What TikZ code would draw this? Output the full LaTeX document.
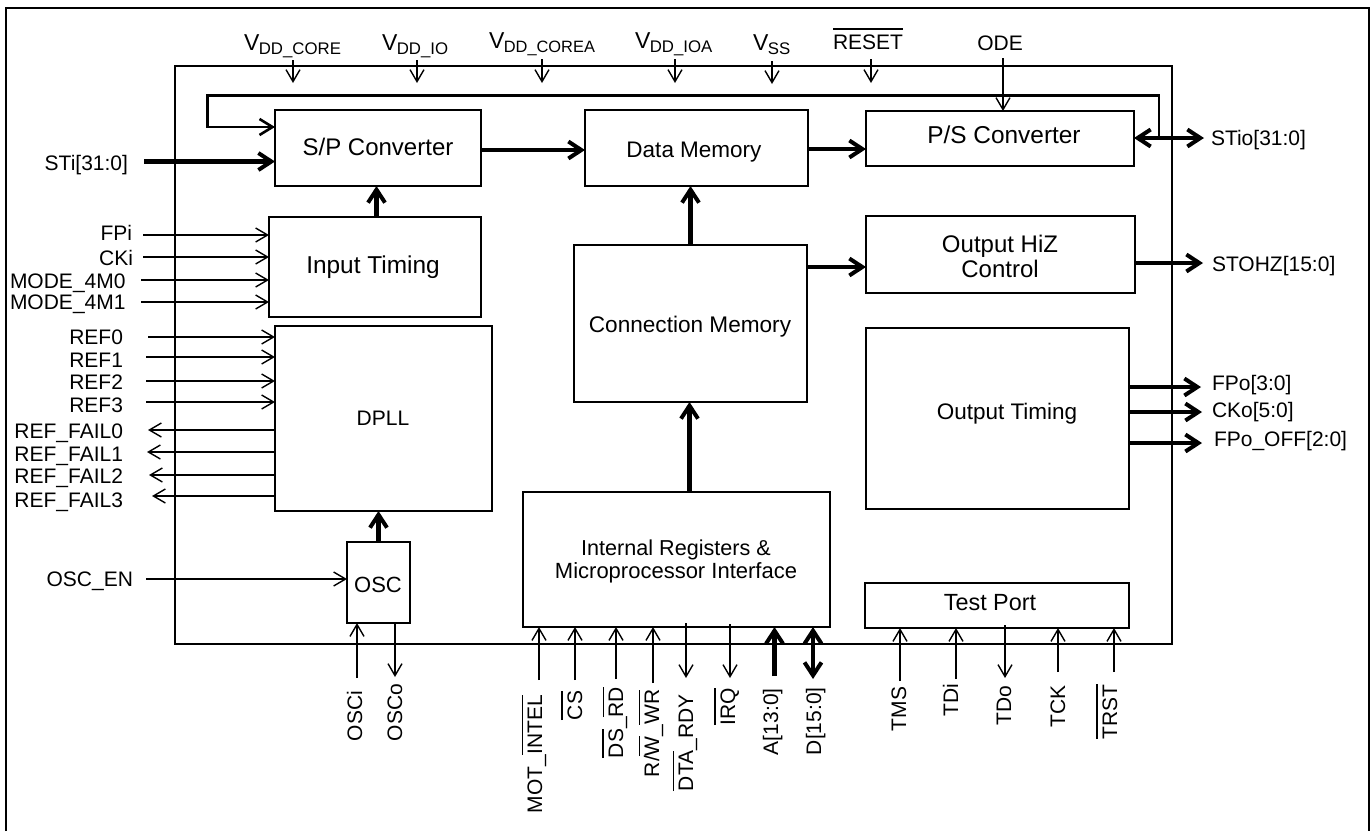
\documentclass[tikz,border=0pt]{standalone}
\usepackage{fontspec}
\setmainfont{Liberation Sans}
\usetikzlibrary{arrows.meta}
\newcommand\fsz[1]{\fontsize{#1}{#1}\selectfont}
\newcommand\ovl[1]{\vbox{\hrule height 1.6pt\kern 4.4pt\hbox{#1}}}
\newcommand\VV[2]{V\kern-0.5pt\raisebox{-4.5pt}{\fsz{#2}#1}}
% block: name x1 y1 x2 y2
\newcommand\blk[5]{\node[blockbox,minimum width={(#4-#2)*1pt},minimum height={(#5-#3)*1pt}] (#1) at ({(#2+#4)/2},{(#3+#5)/2}) {};}
% text: name x baseline size text
\newcommand\btx[5]{\node[txt,anchor=base] (#1) at (#2,#3) {\fsz{#4}#5};}
\newcommand\labR[4]{\node[txt,anchor=base east] (#1) at (#2,#3) {\fsz{21}#4};}
\newcommand\labL[4]{\node[txt,anchor=base west] (#1) at (#2,#3) {\fsz{21}#4};}
\newcommand\labV[4]{\node[txt,anchor=base west,rotate=90] (#1) at (#2,#3) {\fsz{21}#4};}
\tikzset{
  blockbox/.style={draw=black,line width=2pt,rectangle,inner sep=0pt,outer sep=0pt},
  txt/.style={inner sep=0pt,outer sep=0pt,text=black},
  pin/.style={draw=black,line width=1.7pt,-{Straight Barb[length=12pt,width=14pt,line width=1.4pt]}},
  bus/.style={draw=black,line width=4.8pt,-{Straight Barb[length=13pt,width=17pt,line width=4pt]}},
  busdouble/.style={draw=black,line width=3.8pt,{Straight Barb[length=13pt,width=17pt,line width=4pt]}-{Straight Barb[length=13pt,width=17pt,line width=4pt]}},
  loopbus/.style={draw=black,line width=2.8pt,line join=miter,-{Straight Barb[length=13pt,width=16pt,line width=2.6pt]}},
}
\begin{document}
\begin{tikzpicture}[x=1pt,y=-1pt]
\useasboundingbox (0,0) rectangle (1370,831);
\fill[white] (0,0) rectangle (1370,831);
% outer frame (open at the bottom)
\draw[line width=2pt,line join=miter] (6,831) -- (6,8) -- (1369,8) -- (1369,831);
% blocks
\blk{chip}{175}{66}{1172}{644}
\blk{sp}{275}{110}{481}{186}
\blk{inp}{269}{217}{481}{317}
\blk{dpll}{275}{326}{492}{511}
\blk{osc}{347}{542}{410}{623}
\blk{dm}{585}{110}{808}{186}
\blk{cm}{574}{245}{807}{402}
\blk{ir}{523}{492}{830}{627}
\blk{ps}{866}{111}{1134}{166}
\blk{hiz}{866}{216}{1135}{293}
\blk{ot}{866}{328}{1129}{509}
\blk{tp}{865}{583}{1129}{628}
% block texts
\btx{tsp}{378}{155}{24}{S/P Converter}
\btx{tinp}{373}{273}{24.4}{Input Timing}
\btx{tdpll}{383}{425}{21}{DPLL}
\btx{tosc}{378}{592}{22}{OSC}
\btx{tdm}{694}{157}{22.5}{Data Memory}
\btx{tcm}{690}{332}{22.6}{Connection Memory}
\btx{tir}{676}{555}{21.6}{Internal Registers \&}
\btx{tmi}{676}{578}{22}{Microprocessor Interface}
\btx{tps}{1004}{143}{24.4}{P/S Converter}
\btx{th1}{1000}{252}{24}{Output HiZ}
\btx{th2}{1000}{277}{24}{Control}
\btx{tot}{1007}{419}{22.5}{Output Timing}
\btx{ttp}{990}{610.5}{23.4}{Test Port}
% free ends
\coordinate (csti) at (144,161.5);
\coordinate (cfpi) at (143,235);
\coordinate (ccki) at (143,257);
\coordinate (cm0) at (141,280);
\coordinate (cm1) at (141,302);
\coordinate (cr0) at (148,337);
\coordinate (cr1) at (146,357);
\coordinate (cr2) at (146,381);
\coordinate (cr3) at (146,402);
\coordinate (cf0) at (148,430);
\coordinate (cf1) at (147,452);
\coordinate (cf2) at (149,475);
\coordinate (cf3) at (152,496);
\coordinate (cen) at (146,579);
\coordinate (cvc) at (293,60);
\coordinate (cvi) at (417,60);
\coordinate (cvca) at (542,59);
\coordinate (cvia) at (675,59);
\coordinate (cvs) at (772,61);
\coordinate (crs) at (871,59);
\coordinate (code) at (1003,58);
\coordinate (cstio) at (1204,138);
\coordinate (chz) at (1203,263);
\coordinate (cfpo) at (1201,387);
\coordinate (ccko) at (1202,412);
\coordinate (coff) at (1202,443);
\coordinate (coi) at (357,678);
\coordinate (coo) at (395,677);
\coordinate (cmot) at (539,680);
\coordinate (ccs) at (575,680);
\coordinate (cds) at (616,679);
\coordinate (crw) at (653,683);
\coordinate (cdta) at (686,678);
\coordinate (cirq) at (730,678);
\coordinate (ca) at (774.5,676);
\coordinate (cd) at (813,679);
\coordinate (ctms) at (900,681);
\coordinate (ctdi) at (956,679);
\coordinate (ctdo) at (1005,678);
\coordinate (ctck) at (1058,672);
\coordinate (ctrs) at (1114,672);
\coordinate (jr) at (1159,138);
\coordinate (jt) at (1159,95.5);
\coordinate (jl) at (207.5,95.5);
\coordinate (jb) at (207.5,127);
% thick connectors
\draw[bus] (csti) -- (csti -| sp.west);
\draw[bus] (376.5,217 |- inp.north) -- (376.5,217 |- sp.south);
\draw[bus] (378.5,542 |- osc.north) -- (378.5,542 |- dpll.south);
\draw[bus] (sp.east |- 0,150) -- (dm.west |- 0,150);
\draw[bus] (dm.east |- 0,149) -- (ps.west |- 0,149);
\draw[bus] (690.5,245 |- cm.north) -- (690.5,245 |- dm.south);
\draw[bus] (689.5,492 |- ir.north) -- (689.5,492 |- cm.south);
\draw[bus] (cm.east |- 0,267) -- (hiz.west |- 0,267);
\draw[bus] (hiz.east |- chz) -- (chz);
\draw[bus] (ot.east |- cfpo) -- (cfpo);
\draw[bus] (ot.east |- ccko) -- (ccko);
\draw[bus] (ot.east |- coff) -- (coff);
\draw[bus] (ca) -- (ca |- ir.south);
\draw[busdouble] (cd) -- (cd |- ir.south);
\draw[busdouble] (ps.east |- cstio) -- (cstio);
\draw[loopbus] (jr) -- (jt) -- (jl) -- (jb) -- (jb -| sp.west);
% thin connectors
\foreach \c in {cfpi,ccki,cm0,cm1}{\draw[pin] (\c) -- (\c -| inp.west);}
\foreach \c in {cr0,cr1,cr2,cr3}{\draw[pin] (\c) -- (\c -| dpll.west);}
\foreach \c in {cf0,cf1,cf2,cf3}{\draw[pin] (\c -| dpll.west) -- (\c);}
\draw[pin] (cen) -- (cen -| osc.west);
\draw[pin] (coi) -- (coi |- osc.south);
\draw[pin] (coo |- osc.south) -- (coo);
\foreach \c/\t in {cvc/83,cvi/83,cvca/83,cvia/83,cvs/84,crs/83}{\draw[pin] (\c) -- (\c |- 0,\t);}
\draw[pin] (code) -- (code |- ps.north);
\foreach \c in {cmot,ccs,cds,crw}{\draw[pin] (\c) -- (\c |- ir.south);}
\draw[pin] (cdta |- 0,623) -- (cdta);
\draw[pin] (cirq |- 0,624) -- (cirq);
\foreach \c in {ctms,ctdi,ctck,ctrs}{\draw[pin] (\c) -- (\c |- tp.south);}
\draw[pin] (ctdo |- 0,625) -- (ctdo);
% left labels
\labR{lsti}{128}{170}{STi[31:0]}
\labR{lfpi}{132}{240}{FPi}
\labR{lcki}{133}{265}{CKi}
\labL{lm0}{10}{288}{MODE\_4M0}
\labL{lm1}{10}{309}{MODE\_4M1}
\labR{lr0}{123}{344}{REF0}
\labR{lr1}{123}{367}{REF1}
\labR{lr2}{123}{389}{REF2}
\labR{lr3}{123}{412}{REF3}
\labR{lf0}{123}{438}{REF\_FAIL0}
\labR{lf1}{123}{461}{REF\_FAIL1}
\labR{lf2}{123}{483}{REF\_FAIL2}
\labR{lf3}{123}{507}{REF\_FAIL3}
\labR{len}{133}{586}{OSC\_EN}
% top labels
\node[txt,anchor=base west] (lvc) at (244,50) {\fsz{23}\VV{DD\_CORE}{16.8}};
\node[txt,anchor=base west] (lvi) at (382,50) {\fsz{23}\VV{DD\_IO}{16.8}};
\node[txt,anchor=base west] (lvca) at (489,48) {\fsz{23}\VV{DD\_COREA}{16.4}};
\node[txt,anchor=base west] (lvia) at (635,48) {\fsz{23}\VV{DD\_IOA}{16.8}};
\node[txt,anchor=base west] (lvs) at (753,50) {\fsz{23}\VV{SS}{16.8}};
\btx{lrs}{868}{49}{21}{\ovl{RESET}}
\btx{lode}{1000}{50}{21}{ODE}
% right labels
\labL{lstio}{1211}{145}{STio[31:0]}
\labL{lhz}{1212}{271}{STOHZ[15:0]}
\labL{lfpo}{1212}{390}{FPo[3:0]}
\labL{lcko}{1212}{417}{CKo[5:0]}
\labL{loff}{1214}{446}{FPo\_OFF[2:0]}
% bottom labels
\labV{loi}{362}{741}{OSCi}
\labV{loo}{402}{741}{OSCo}
\labV{lmot}{542}{813}{MOT\_\ovl{INTEL}}
\labV{lcs}{582}{720}{\ovl{CS}}
\labV{lds}{623}{758}{\ovl{DS}\_\ovl{RD}}
\labV{lrw}{659}{777}{R/\ovl{W}\_\ovl{WR}}
\labV{ldta}{693}{791}{\ovl{DTA}\_RDY}
\labV{lirq}{735}{725}{\ovl{IRQ}}
\labV{la}{778}{755}{A[13:0]}
\labV{ld}{821}{755}{D[15:0]}
\labV{ltms}{906}{731}{TMS}
\labV{ltdi}{958}{716}{TDi}
\labV{ltdo}{1011}{725}{TDo}
\labV{ltck}{1065}{727}{TCK}
\labV{ltrs}{1117}{739}{\ovl{TRST}}
\end{tikzpicture}
\end{document}
